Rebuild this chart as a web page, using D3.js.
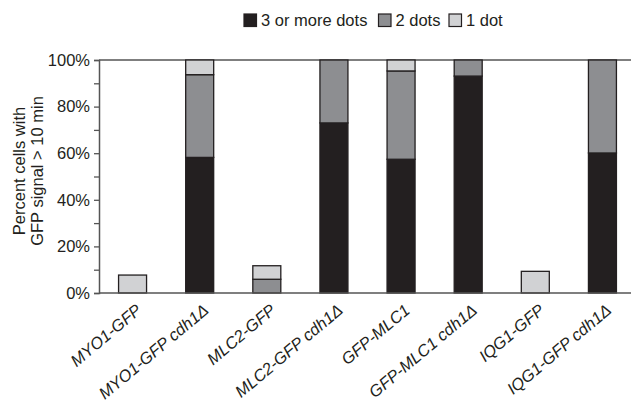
<!DOCTYPE html>
<html><head><meta charset="utf-8">
<script src="https://cdn.jsdelivr.net/npm/d3@7"></script>
<style>body{margin:0;background:#fff}svg{display:block}text{font-family:"Liberation Sans",Arial,sans-serif;fill:#231f20}</style>
</head><body><svg id="c" width="631" height="406"></svg>
<script>
const categories = ["MYO1-GFP","MYO1-GFP cdh1Δ","MLC2-GFP","MLC2-GFP cdh1Δ","GFP-MLC1","GFP-MLC1 cdh1Δ","IQG1-GFP","IQG1-GFP cdh1Δ"];
const threeOrMore = [0, 58.2, 0, 73.0, 57.4, 93.1, 0, 60.1];
const twoDots     = [0, 35.5, 5.9, 27.0, 37.9, 6.9, 0, 39.9];
const oneDot      = [7.7, 6.3, 5.8, 0, 4.7, 0, 9.3, 0];
const seriesNames = ["3 or more dots","2 dots","1 dot"];
const yTicks = [0,20,40,60,80,100];
const colors = ["#231f20","#8d8e91","#d1d2d4"];

const svg = d3.select("#c");
const L = 99, R = 636, T = 60, B = 293;
const x = d3.scaleBand().domain(categories).range([L, R]).paddingInner(0.583).paddingOuter(0.2915);
const y = d3.scaleLinear().domain([0,100]).range([B, T]);

const rows = categories.map((c,i)=>({cat:c, s0:threeOrMore[i], s1:twoDots[i], s2:oneDot[i]}));
const stack = d3.stack().keys(["s0","s1","s2"])(rows);

svg.append("line").attr("x1",L).attr("x2",631).attr("y1",y(100)).attr("y2",y(100)).attr("stroke","#555").attr("stroke-width",1.5);

stack.forEach((layer,k)=>{
  svg.append("g").selectAll("rect").data(layer.filter(d=>d[1]-d[0]>0)).join("rect")
    .attr("x",d=>x(d.data.cat)).attr("width",x.bandwidth())
    .attr("y",d=>y(d[1])).attr("height",d=>y(d[0])-y(d[1]))
    .attr("fill",colors[k]).attr("stroke","#231f20").attr("stroke-width",1.3);
});

svg.append("line").attr("x1",L).attr("x2",631).attr("y1",y(0)).attr("y2",y(0)).attr("stroke","#555").attr("stroke-width",1.5);

const yAxis = svg.append("g").attr("transform",`translate(${L},0)`)
  .call(d3.axisLeft(y).tickValues(d3.range(0,101,10)).tickSize(5).tickFormat(d=>yTicks.includes(d)?d+"%":""));
yAxis.select(".domain").attr("stroke","#555").attr("stroke-width",1.5);
yAxis.selectAll(".tick line").attr("stroke","#555").attr("stroke-width",1.3);
yAxis.selectAll(".tick text").attr("x",-9).style("font-size","16.5px").style("font-family","Liberation Sans, Arial, sans-serif").attr("fill","#231f20");

const yl = svg.append("text").attr("transform","translate(25,171) rotate(-90)").attr("text-anchor","middle").style("font-size","16.5px");
yl.append("tspan").attr("x",0).attr("y",0).text("Percent cells with");
yl.append("tspan").attr("x",0).attr("y",18).text("GFP signal > 10 min");

svg.append("g").selectAll("text").data(categories).join("text")
  .attr("transform",d=>`translate(${x(d)+x.bandwidth()/2+10},312) rotate(-40)`)
  .attr("text-anchor","end").style("font-size","16.5px").style("font-style","italic").text(d=>d);

const legX = [244, 378.5, 449];
seriesNames.forEach((n,k)=>{
  svg.append("rect").attr("x",legX[k]).attr("y",14).attr("width",12.5).attr("height",12.5)
    .attr("fill",colors[k]).attr("stroke","#231f20").attr("stroke-width",1.2);
  svg.append("text").attr("x",legX[k]+17).attr("y",26).style("font-size","16.5px").text(n);
});
</script></body></html>
